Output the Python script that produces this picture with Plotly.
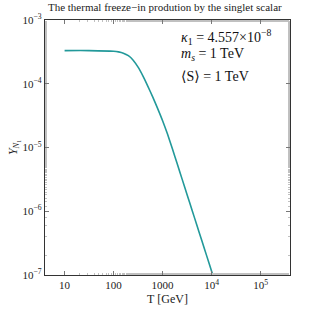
import plotly.graph_objects as go

# Data
T_vals = [10, 31.6, 100, 126, 158, 200, 251, 316, 398, 501, 631, 794, 1000, 1259, 1585,
          1995, 2512, 3162, 3981, 5012, 6310, 7943, 10000, 12589]
logY_vals = [-3.48, -3.48, -3.49, -3.50, -3.52, -3.56, -3.63, -3.74, -3.88, -4.04, -4.21, -4.39,
             -4.58, -4.79, -5.02, -5.26, -5.50, -5.74, -5.98, -6.22, -6.46, -6.70, -6.94, -7.18]
Y_vals = [10 ** v for v in logY_vals]

x_tickvals = [10, 100, 1000, 10000, 100000]
x_ticktext = ["10", "100", "1000", "10<sup>4</sup>", "10<sup>5</sup>"]
y_tickvals = [1e-7, 1e-6, 1e-5, 1e-4, 1e-3]
y_ticktext = ["10<sup>−7</sup>", "10<sup>−6</sup>", "10<sup>−5</sup>", "10<sup>−4</sup>", "10<sup>−3</sup>"]

font_family = "Liberation Serif, DejaVu Serif, serif"

fig = go.Figure()
fig.add_trace(go.Scatter(x=T_vals, y=Y_vals, mode="lines",
                         line=dict(color="#22999a", width=1.6, shape="spline", smoothing=0.6),
                         showlegend=False))

axis_common = dict(
    type="log", showgrid=False, zeroline=False, showline=True, linecolor="#333333", linewidth=1.2,
    mirror="allticks", ticks="inside", ticklen=4, tickwidth=0.7, tickcolor="#777777",
    tickfont=dict(family=font_family, size=11, color="#222222"), automargin=False,
    minor=dict(ticks="inside", ticklen=2, tickwidth=0.5, tickcolor="#c0c0c0", showgrid=False),
)

fig.update_xaxes(**axis_common, range=[0.6, 5.6], tickvals=x_tickvals, ticktext=x_ticktext,
                 title=dict(text="T [GeV]", font=dict(family=font_family, size=12, color="#222222"), standoff=4))
fig.update_yaxes(**axis_common, range=[-7, -3], tickvals=y_tickvals, ticktext=y_ticktext,
                 title=dict(text="<i>Y</i><sub><i>N</i><sub>1</sub></sub>", font=dict(family=font_family, size=12, color="#222222"), standoff=2))

ann_font = dict(family=font_family, size=14, color="#111111")
fig.add_annotation(xref="paper", yref="paper", x=0.545, y=0.935, xanchor="left", yanchor="middle",
                   text="<i>κ</i><sub>1</sub> = 4.557×10<sup>−8</sup>", showarrow=False, font=ann_font)
fig.add_annotation(xref="paper", yref="paper", x=0.545, y=0.865, xanchor="left", yanchor="middle",
                   text="<i>m</i><sub><i>s</i></sub> = 1 TeV", showarrow=False, font=ann_font)
fig.add_annotation(xref="paper", yref="paper", x=0.545, y=0.78, xanchor="left", yanchor="middle",
                   text="⟨S⟩ = 1 TeV", showarrow=False, font=ann_font)

fig.update_layout(
    width=311, height=311,
    margin=dict(l=45, r=21, t=20, b=36),
    paper_bgcolor="white", plot_bgcolor="white",
    title=dict(text="The thermal freeze−in prodution by the singlet scalar",
               font=dict(family=font_family, size=11, color="#222222"),
               x=0.53, xanchor="center", y=0.99, yanchor="top"),
)

fig.write_html("out.html", config={"displayModeBar": False},
               post_script="document.body.style.margin='0px';")
